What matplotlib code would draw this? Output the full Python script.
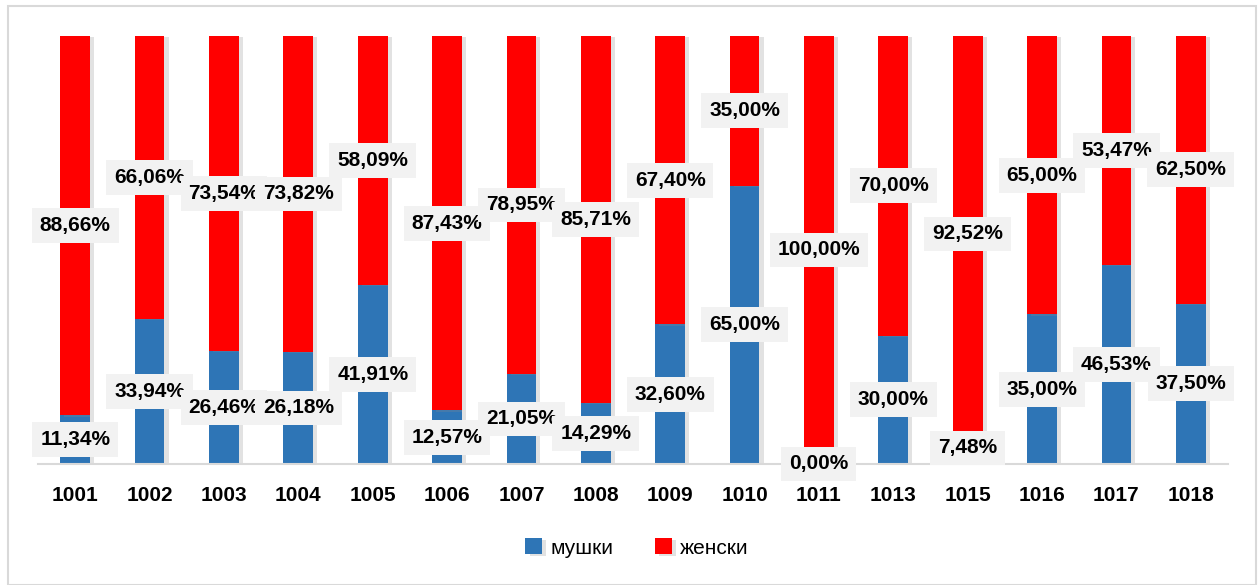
import matplotlib
matplotlib.use("Agg")
import matplotlib.pyplot as plt
import matplotlib.patheffects as pe
from matplotlib.patches import Rectangle
import numpy as np

plt.rcParams['font.family'] = ['Liberation Sans', 'DejaVu Sans']

categories = ["1001", "1002", "1003", "1004", "1005", "1006", "1007", "1008",
              "1009", "1010", "1011", "1013", "1015", "1016", "1017", "1018"]
male = [11.34, 33.94, 26.46, 26.18, 41.91, 12.57, 21.05, 14.29,
        32.60, 65.00, 0.00, 30.00, 7.48, 35.00, 46.53, 37.50]
female = [88.66, 66.06, 73.54, 73.82, 58.09, 87.43, 78.95, 85.71,
          67.40, 35.00, 100.00, 70.00, 92.52, 65.00, 53.47, 62.50]

blue = "#2E75B6"
red = "#FF0000"

fig = plt.figure(figsize=(12.59, 5.85), dpi=100)
ax = fig.add_axes([38/1259, 1 - 464/585, (1228 - 38)/1259, (464 - 36)/585])

x = np.arange(len(categories))
shadow = [pe.SimplePatchShadow(offset=(3, -1), shadow_rgbFace="#8c8c8c", alpha=0.25), pe.Normal()]
b1 = ax.bar(x, male, width=0.4, color=blue, label="мушки", path_effects=shadow)
b2 = ax.bar(x, female, width=0.4, bottom=male, color=red, label="женски", path_effects=shadow)

def fmt(v):
    return ("%.2f%%" % v).replace(".", ",")

box = dict(boxstyle="square,pad=0.38", fc="#F2F2F2", ec="none")
for i in range(len(categories)):
    ax.text(x[i], male[i] / 2, fmt(male[i]), ha="center", va="center",
            fontsize=15, fontweight="bold", bbox=box, zorder=5)
    ax.text(x[i], male[i] + female[i] / 2, fmt(female[i]), ha="center", va="center",
            fontsize=15, fontweight="bold", bbox=box, zorder=5)

ax.set_xlim(-0.5, len(categories) - 0.5)
ax.set_ylim(0, 100)
ax.set_xticks(x)
ax.set_xticklabels(categories, fontsize=15, fontweight="bold")
ax.tick_params(axis="x", length=0, pad=16)
ax.set_yticks([])
for s in ["top", "right", "left"]:
    ax.spines[s].set_visible(False)
ax.spines["bottom"].set_color("#D9D9D9")
ax.spines["bottom"].set_linewidth(1.5)

fig.legend(handles=[b1, b2], loc="center", bbox_to_anchor=(637/1259, 1 - 548/585),
           ncol=2, frameon=False, fontsize=15, handlelength=0.8, handleheight=0.8,
           handletextpad=0.4, columnspacing=2.0)

fig.patches.append(Rectangle((8/1259, 0), (1256 - 8)/1259, 1 - 6/585,
                             transform=fig.transFigure, fill=False,
                             ec="#D9D9D9", lw=1.5))

fig.savefig("out.png", dpi=100)
